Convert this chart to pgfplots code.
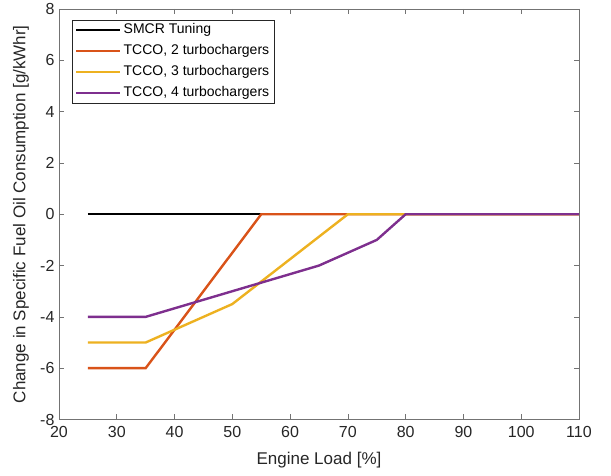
\documentclass[border=0pt]{standalone}
\usepackage{pgfplots}
\pgfplotsset{compat=1.18}
\usepackage{fontspec}
\setmainfont{Liberation Sans}
\definecolor{mlorange}{rgb}{0.850,0.325,0.098}
\definecolor{mlyellow}{rgb}{0.929,0.694,0.125}
\definecolor{mlpurple}{rgb}{0.494,0.184,0.556}
\definecolor{axgray}{rgb}{0.15,0.15,0.15}
\definecolor{boxgray}{rgb}{0.45,0.45,0.45}
\begin{document}
\begin{tikzpicture}
\begin{axis}[
  scale only axis,
  width=520pt, height=410.5pt,
  xmin=20, xmax=110, ymin=-8, ymax=8,
  xtick={20,30,...,110}, ytick={-8,-6,...,8},
  tick align=inside,
  major tick length=5pt,
  axis line style={boxgray, line width=0.7pt},
  tick style={boxgray, line width=0.7pt},
  every tick label/.append style={font=\fontsize{16}{18}\selectfont, text=axgray},
  xticklabel style={yshift=-3pt},
  yticklabel style={xshift=-1pt},
  /pgf/number format/assume math mode=true,
  xlabel={Engine Load [\%]},
  ylabel={Change in Specific Fuel Oil Consumption [g/kWhr]},
  label style={font=\fontsize{17}{19}\selectfont, text=axgray},
  xlabel style={at={(axis description cs:0.5,-0.10)}, anchor=center},
  ylabel style={at={(axis description cs:-0.073,0.5)}, anchor=center},
  legend cell align=left,
  legend style={font=\fontsize{14}{16}\selectfont, draw=axgray, line width=0.6pt,
    at={(axis description cs:0.025,0.974)}, anchor=north west,
    inner xsep=3pt, inner ysep=1.5pt, row sep=4pt,
    nodes={inner sep=2pt, text height=10pt, text depth=3pt}},
  legend image code/.code={\draw[#1, line width=2.4pt] (0pt,0pt) -- (44pt,0pt);},
  every axis plot/.append style={line width=2.4pt},
]
\addplot[black] coordinates {(25,0) (110,0)};
\addlegendentry{SMCR Tuning}
\addplot[mlorange] coordinates {(25,-6) (35,-6) (55,0) (110,0)};
\addlegendentry{TCCO, 2 turbochargers}
\addplot[mlyellow] coordinates {(25,-5) (35,-5) (50,-3.5) (70,0) (110,0)};
\addlegendentry{TCCO, 3 turbochargers}
\addplot[mlpurple] coordinates {(25,-4) (35,-4) (50,-3) (65,-2) (75,-1) (80,0) (110,0)};
\addlegendentry{TCCO, 4 turbochargers}
\end{axis}
\path[use as bounding box] (current axis.south west) ++(-59pt,-56pt) rectangle ++(611pt,474pt);
\end{tikzpicture}
\end{document}
